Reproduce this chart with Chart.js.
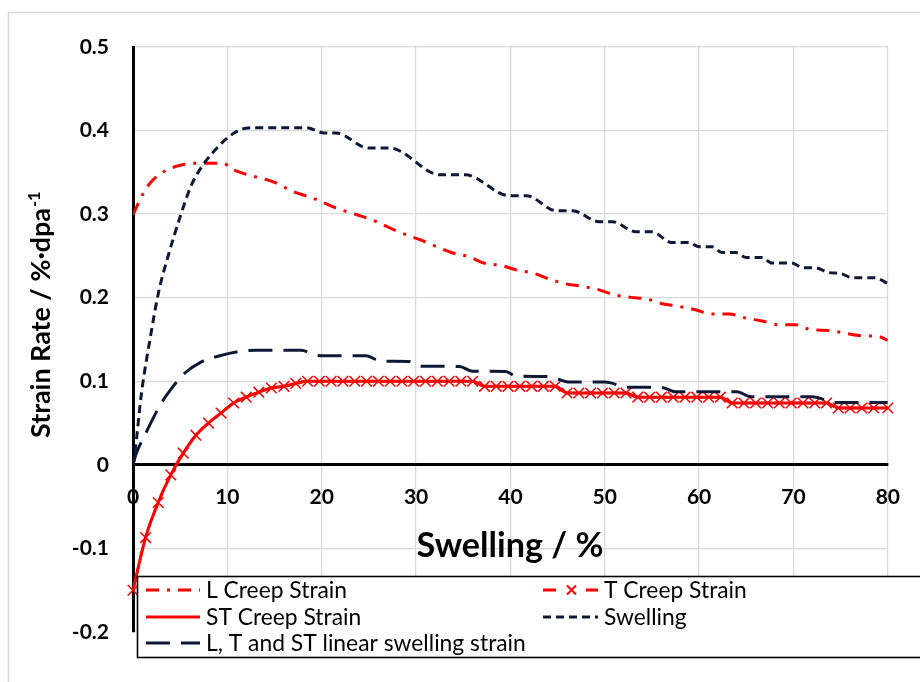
<!DOCTYPE html>
<html>
<head>
<meta charset="utf-8">
<script src="https://cdn.jsdelivr.net/npm/chart.js@4.4.1/dist/chart.umd.min.js"></script>
<style>
  html, body { margin: 0; padding: 0; background: #fff; overflow: hidden; }
  canvas { display: block; }
</style>
</head>
<body>
<canvas id="chart" width="920" height="682"></canvas>
<script>
// ---- axis ticks ----
const xTickValues = [0, 10, 20, 30, 40, 50, 60, 70, 80];
const xTickLabels = ['0', '10', '20', '30', '40', '50', '60', '70', '80'];
const yTickValues = [-0.2, -0.1, 0, 0.1, 0.2, 0.3, 0.4, 0.5];
const yTickLabels = ['-0.2', '-0.1', '0', '0.1', '0.2', '0.3', '0.4', '0.5'];

// ---- series names ----
const seriesNames = [
  'L Creep Strain',
  'T Creep Strain',
  'ST Creep Strain',
  'Swelling',
  'L, T and ST linear swelling strain'
];

// ---- L creep strain rate vs swelling ----
const lCreepX = [0, 0.9, 1.8, 3.3, 5.0, 6.9, 8.5, 9.7, 10.3, 12.2, 14.8, 17.0, 19.1, 21.6, 23.8,
  25.8, 28.1, 30.4, 32.1, 33.9, 35.5, 37.2, 39.0, 40.8, 42.4, 44.1, 45.8, 47.6, 49.2, 51.0,
  52.8, 54.5, 56.1, 57.9, 59.6, 61.4, 63.2, 64.9, 66.7, 68.4, 70.2, 71.9, 73.8, 75.4, 77.3, 79.0, 80];
const lCreepY = [0.299, 0.321, 0.337, 0.351, 0.3585, 0.361, 0.361, 0.3605, 0.355, 0.347, 0.339, 0.327,
  0.319, 0.307, 0.299, 0.291, 0.279, 0.2695, 0.2615, 0.2535, 0.2495, 0.2415, 0.2387, 0.2327, 0.2295,
  0.2224, 0.2168, 0.2136, 0.21, 0.2036, 0.2004, 0.1984, 0.1928, 0.1896, 0.1856, 0.1805, 0.1805,
  0.1757, 0.1721, 0.1677, 0.1677, 0.1617, 0.1609, 0.1577, 0.1545, 0.1537, 0.149];

// ---- T and ST creep strain rate (sampled at the same swelling values) ----
const creepX = [0, 1.33, 2.67, 4, 5.33, 6.67, 8, 9.33, 10.67, 12, 13.33, 14.67, 16, 17.25,
  18.5, 19.75, 21, 22.25, 23.5, 24.75, 26, 27.25, 28.5, 29.75, 31, 32.25, 33.5, 34.75, 36,
  37.25, 38.5, 39.75, 41, 42.25, 43.5, 44.75,
  46, 47.25, 48.5, 49.75, 51, 52.25,
  53.5, 54.75, 56, 57.25, 58.5, 59.75, 61, 62.25,
  63.5, 64.75, 66, 67.25, 68.5, 69.75, 71, 72.25, 73.5,
  74.75, 76, 77.25, 78.5, 80];
const tCreepY = [-0.15, -0.087, -0.045, -0.012, 0.014, 0.0355, 0.05, 0.062, 0.074, 0.081, 0.087, 0.092, 0.094, 0.0975,
  0.1, 0.1, 0.1, 0.1, 0.1, 0.1, 0.1, 0.1, 0.1, 0.1, 0.1, 0.1, 0.1, 0.1, 0.1,
  0.094, 0.094, 0.094, 0.094, 0.094, 0.094, 0.094,
  0.086, 0.086, 0.086, 0.086, 0.086, 0.086,
  0.081, 0.081, 0.081, 0.081, 0.081, 0.081, 0.081, 0.081,
  0.074, 0.074, 0.074, 0.074, 0.074, 0.074, 0.074, 0.074, 0.074,
  0.068, 0.068, 0.068, 0.068, 0.068];
const stCreepY = [-0.15, -0.087, -0.045, -0.012, 0.014, 0.0355, 0.05, 0.062, 0.074, 0.081, 0.087, 0.092, 0.094, 0.0975,
  0.1, 0.1, 0.1, 0.1, 0.1, 0.1, 0.1, 0.1, 0.1, 0.1, 0.1, 0.1, 0.1, 0.1, 0.1,
  0.094, 0.094, 0.094, 0.094, 0.094, 0.094, 0.094,
  0.086, 0.086, 0.086, 0.086, 0.086, 0.086,
  0.081, 0.081, 0.081, 0.081, 0.081, 0.081, 0.081, 0.081,
  0.074, 0.074, 0.074, 0.074, 0.074, 0.074, 0.074, 0.074, 0.074,
  0.068, 0.068, 0.068, 0.068, 0.068];

// ---- volumetric swelling rate ----
const swellX = [0, 0.2, 0.9, 1.8, 2.7, 3.7, 5.0, 6.2, 7.3, 8.4, 10.2, 11.6, 13.0, 18.4, 20.3, 21.5,
  25.0, 27.2, 32.6, 35.2, 39.9, 41.7, 44.9, 46.6, 49.4, 50.8, 53.3, 55.0, 57.1, 58.9, 60.0, 61.4,
  62.4, 63.9, 65.0, 66.7, 67.7, 69.8, 71.0, 72.2, 73.8, 75.0, 76.2, 78.6, 80];
const swellY = [0, 0.014, 0.086, 0.15, 0.206, 0.249, 0.297, 0.335, 0.357, 0.373, 0.393, 0.402, 0.4035,
  0.4035, 0.397, 0.397, 0.379, 0.379, 0.347, 0.347, 0.322, 0.322, 0.304, 0.304, 0.291, 0.291, 0.279,
  0.279, 0.266, 0.266, 0.261, 0.261, 0.254, 0.254, 0.248, 0.248, 0.2415, 0.2415, 0.236, 0.236, 0.230,
  0.229, 0.224, 0.224, 0.217];

// ---- linear swelling strain rate ----
const linSwellX = [0, 0.3, 1.45, 2.9, 4.4, 5.3, 7.2, 9.2, 11.3, 13.0, 17.8, 19.3, 20.0, 24.7, 26.3,
  29.2, 30.6, 34.6, 36.0, 39.5, 40.6, 44.0, 46.3, 50.0, 52.4, 56.0, 57.5, 64.0, 65.5, 72.0, 74.5, 80];
const linSwellY = [0, 0.012, 0.04, 0.072, 0.096, 0.108, 0.123, 0.1305, 0.1357, 0.137, 0.137, 0.1315,
  0.1305, 0.1305, 0.124, 0.1237, 0.118, 0.1178, 0.112, 0.1118, 0.106, 0.1058, 0.099, 0.099, 0.093,
  0.0926, 0.0875, 0.0875, 0.0815, 0.0815, 0.0745, 0.0745];

// ---- styling ----
const FONT = 'Lato, "Liberation Sans", sans-serif';
const RED = '#ff0000';
const NAVY = '#0d1836';
const GRID = '#d9d9d9';
const DASH_L = [13, 8, 3, 8];
const DASH_T = [10, 6];
const DASH_SWELL = [8, 5];
const DASH_LIN = [24, 11];

function toPoints(xs, ys) {
  return xs.map((x, i) => ({ x: x, y: ys[i] }));
}

function fitSize(ctx, text, weight, target) {
  ctx.font = weight + ' 40px ' + FONT;
  return 40 * target / ctx.measureText(text).width;
}

// frame, axis titles and legend drawn around the plot
const decorations = {
  id: 'decorations',
  beforeDraw(chart) {
    const ctx = chart.ctx;
    ctx.save();
    ctx.fillStyle = '#ffffff';
    ctx.fillRect(0, 0, chart.width, chart.height);
    ctx.strokeStyle = GRID;
    ctx.lineWidth = 1.5;
    ctx.strokeRect(8.5, 12.5, 1000, 1000);
    ctx.restore();
  },
  afterDraw(chart) {
    const ctx = chart.ctx;
    ctx.save();
    ctx.fillStyle = '#000';

    // x axis title
    const xt = 'Swelling / %';
    const xs = fitSize(ctx, xt, 'bold', 187);
    ctx.font = 'bold ' + xs + 'px ' + FONT;
    ctx.textAlign = 'center';
    ctx.textBaseline = 'alphabetic';
    ctx.fillText(xt, 510, 557);

    // y axis title with superscript exponent
    const yt = 'Strain Rate / %\u00B7dpa';
    const ys = fitSize(ctx, yt, 'bold', 230);
    ctx.save();
    ctx.translate(50, 438);
    ctx.rotate(-Math.PI / 2);
    ctx.textAlign = 'left';
    ctx.font = 'bold ' + ys + 'px ' + FONT;
    ctx.fillText(yt, 0, 0);
    const yw = ctx.measureText(yt).width;
    ctx.font = 'bold ' + (ys * 0.62) + 'px ' + FONT;
    ctx.fillText('-1', yw + 1, -ys * 0.36);
    ctx.restore();

    // legend box
    const box = { left: 137, top: 576, bottom: 657 };
    ctx.fillStyle = '#fff';
    ctx.fillRect(box.left, box.top, 900, box.bottom - box.top);
    ctx.strokeStyle = '#000';
    ctx.lineWidth = 1.6;
    ctx.strokeRect(box.left + 0.5, box.top + 0.5, 900, box.bottom - box.top);

    const ls = fitSize(ctx, seriesNames[4], 'normal', 320);
    const rows = [590, 617, 643];
    const cols = [{ x0: 146, x1: 200, tx: 206 }, { x0: 543, x1: 598, tx: 604 }];
    const entries = [
      { name: seriesNames[0], col: 0, row: 0, color: RED, dash: DASH_L, width: 3 },
      { name: seriesNames[1], col: 1, row: 0, color: RED, dash: null, width: 3, cross: true },
      { name: seriesNames[2], col: 0, row: 1, color: RED, dash: [], width: 3 },
      { name: seriesNames[3], col: 1, row: 1, color: NAVY, dash: DASH_SWELL, width: 3 },
      { name: seriesNames[4], col: 0, row: 2, color: NAVY, dash: DASH_LIN, width: 3 }
    ];
    entries.forEach(e => {
      const c = cols[e.col];
      const y = rows[e.row];
      ctx.strokeStyle = e.color;
      ctx.lineWidth = e.width;
      if (e.cross) {
        ctx.setLineDash([]);
        ctx.beginPath();
        ctx.moveTo(c.x0, y); ctx.lineTo(c.x0 + 13, y);
        ctx.moveTo(c.x1 - 12, y); ctx.lineTo(c.x1, y);
        ctx.stroke();
        const cx = (c.x0 + c.x1) / 2 + 1;
        ctx.lineWidth = 2;
        ctx.beginPath();
        ctx.moveTo(cx - 4.5, y - 4.5); ctx.lineTo(cx + 4.5, y + 4.5);
        ctx.moveTo(cx - 4.5, y + 4.5); ctx.lineTo(cx + 4.5, y - 4.5);
        ctx.stroke();
      } else {
        ctx.setLineDash(e.dash);
        ctx.beginPath();
        ctx.moveTo(c.x0, y);
        ctx.lineTo(c.x1, y);
        ctx.stroke();
      }
      ctx.setLineDash([]);
      ctx.fillStyle = '#000';
      ctx.font = 'normal ' + ls + 'px ' + FONT;
      ctx.textAlign = 'left';
      ctx.textBaseline = 'middle';
      ctx.fillText(e.name, c.tx, y + 1);
    });
    ctx.restore();
  }
};

const tickFont = { family: FONT, size: 21, weight: 'bold' };

new Chart(document.getElementById('chart'), {
  type: 'scatter',
  data: {
    datasets: [
      { label: seriesNames[0], data: toPoints(lCreepX, lCreepY), showLine: true,
        borderColor: RED, borderWidth: 3, borderDash: DASH_L, pointRadius: 0, order: 4 },
      { label: seriesNames[1], data: toPoints(creepX, tCreepY), showLine: true,
        borderColor: RED, borderWidth: 2.5, borderDash: DASH_T,
        pointStyle: 'crossRot', pointRadius: 7.5, pointBorderWidth: 1.5,
        pointBorderColor: RED, pointBackgroundColor: RED, order: 3, clip: false },
      { label: seriesNames[2], data: toPoints(creepX, stCreepY), showLine: true,
        borderColor: RED, borderWidth: 3, pointRadius: 0, order: 2 },
      { label: seriesNames[3], data: toPoints(swellX, swellY), showLine: true,
        borderColor: NAVY, borderWidth: 3, borderDash: DASH_SWELL, pointRadius: 0, order: 1 },
      { label: seriesNames[4], data: toPoints(linSwellX, linSwellY), showLine: true,
        borderColor: NAVY, borderWidth: 3, borderDash: DASH_LIN, pointRadius: 0, order: 0 }
    ]
  },
  options: {
    responsive: false,
    animation: false,
    devicePixelRatio: 1,
    layout: { padding: { left: 0, right: 31, top: 47, bottom: 50 } },
    elements: { line: { cubicInterpolationMode: 'monotone' } },
    plugins: { legend: { display: false }, tooltip: { enabled: false } },
    scales: {
      x: {
        type: 'linear',
        position: { y: 0 },
        min: 0, max: 80,
        afterBuildTicks: s => { s.ticks = xTickValues.map(v => ({ value: v })); },
        grid: { color: GRID, lineWidth: 1.3, drawTicks: false },
        border: { color: '#000', width: 3 },
        ticks: { font: tickFont, color: '#000', padding: 20, maxRotation: 0, autoSkip: false,
                 callback: (v, i) => xTickLabels[i] }
      },
      y: {
        type: 'linear',
        position: 'left',
        min: -0.2, max: 0.5,
        afterBuildTicks: s => { s.ticks = yTickValues.map(v => ({ value: v })); },
        afterFit: s => { s.width = 133; },
        grid: { color: GRID, lineWidth: 1.3, drawTicks: false },
        border: { color: '#000', width: 3 },
        ticks: { font: tickFont, color: '#000', padding: 24, autoSkip: false,
                 callback: (v, i) => yTickLabels[i] }
      }
    }
  },
  plugins: [decorations]
});
</script>
</body>
</html>
